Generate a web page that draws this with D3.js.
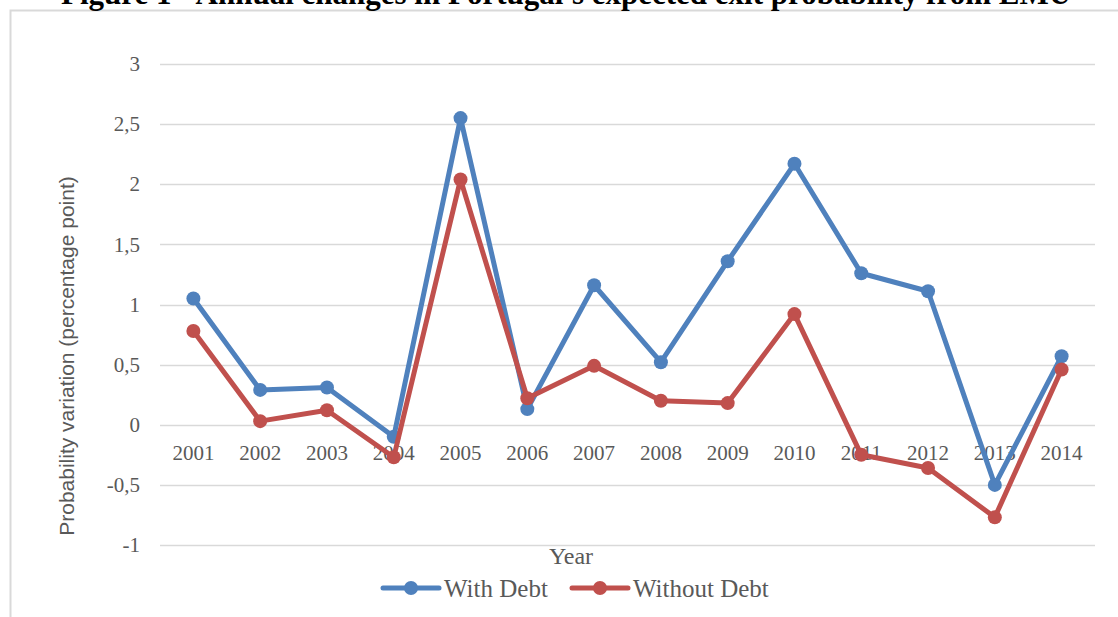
<!DOCTYPE html>
<html>
<head>
  <style>
    body { margin: 0; background: #fff; }
    svg { display: block; }
  </style>
</head>
<body>
  <svg id="svg" width="1118" height="617"></svg>
  <script src="https://d3js.org/d3.v7.min.js"></script>
  <script>
    const years = ['2001', '2002', '2003', '2004', '2005', '2006', '2007', '2008', '2009', '2010', '2011', '2012', '2013', '2014']
    const withDebt = [1.05, 0.29, 0.31, -0.10, 2.55, 0.13, 1.16, 0.52, 1.36, 2.17, 1.26, 1.11, -0.50, 0.57]
    const withoutDebt = [0.78, 0.03, 0.12, -0.27, 2.04, 0.22, 0.49, 0.20, 0.18, 0.92, -0.25, -0.36, -0.77, 0.46]
    const yTicks = [-1, -0.5, 0, 0.5, 1, 1.5, 2, 2.5, 3]
    const seriesNames = ['With Debt', 'Without Debt']
    const colors = ['#4F81BD', '#C0504D']

    const svg = d3.select('#svg')
    const serif = "'Liberation Serif', 'Times New Roman', serif"
    const textColor = '#595959'

    // chart frame (cut off on the right and bottom)
    svg.append('path')
      .attr('d', 'M10.5,617 L10.5,10.5 L1118,10.5')
      .attr('fill', 'none')
      .attr('stroke', '#d9d9d9')
      .attr('stroke-width', 2)

    // title, mostly clipped at the top
    svg.append('text')
      .attr('x', 566).attr('y', 4)
      .attr('text-anchor', 'middle')
      .attr('font-family', serif)
      .attr('font-weight', 'bold')
      .attr('font-size', 31)
      .text("Figure 1 - Annual changes in Portugal's expected exit probability from EMU")

    const x = d3.scaleBand().domain(years).range([160, 1095])
    const y = d3.scaleLinear().domain([-1, 3]).range([545, 64])

    // gridlines
    svg.append('g').selectAll('line').data(yTicks).join('line')
      .attr('x1', 160).attr('x2', 1095)
      .attr('y1', d => Math.round(y(d)) + 0.5).attr('y2', d => Math.round(y(d)) + 0.5)
      .attr('stroke', '#d9d9d9').attr('stroke-width', 1.5)

    const fmt = d => String(d).replace('.', ',')

    // y axis labels
    const yAxis = svg.append('g')
      .attr('transform', 'translate(140,0)')
      .call(d3.axisLeft(y).tickValues(yTicks).tickFormat(fmt).tickSize(0).tickPadding(0))
    yAxis.select('.domain').remove()
    yAxis.selectAll('text')
      .attr('font-family', serif).attr('font-size', 21).attr('fill', textColor)

    // x axis labels below zero line
    const xAxis = svg.append('g')
      .attr('transform', `translate(0,${y(0)})`)
      .call(d3.axisBottom(x).tickSize(0).tickPadding(20))
    xAxis.select('.domain').remove()
    xAxis.selectAll('text')
      .attr('font-family', serif).attr('font-size', 21).attr('fill', textColor)

    // axis titles
    svg.append('text')
      .attr('transform', 'translate(74,356) rotate(-90)')
      .attr('text-anchor', 'middle')
      .attr('font-family', "'Liberation Sans Narrow', 'Liberation Sans', Arial, sans-serif")
      .attr('font-stretch', 'condensed')
      .attr('font-size', 21)
      .attr('fill', textColor)
      .text('Probability variation (percentage point)')

    svg.append('text')
      .attr('x', 571).attr('y', 564)
      .attr('text-anchor', 'middle')
      .attr('font-family', serif).attr('font-size', 24).attr('fill', textColor)
      .text('Year')

    // series
    const line = d3.line()
      .x((d, i) => x(years[i]) + x.bandwidth() / 2)
      .y(d => y(d))

    const allSeries = [withDebt, withoutDebt]
    allSeries.forEach((vals, si) => {
      const g = svg.append('g')
      g.append('path')
        .attr('d', line(vals))
        .attr('fill', 'none')
        .attr('stroke', colors[si])
        .attr('stroke-width', 5)
        .attr('stroke-linejoin', 'round')
      g.selectAll('circle').data(vals).join('circle')
        .attr('cx', (d, i) => x(years[i]) + x.bandwidth() / 2)
        .attr('cy', d => y(d))
        .attr('r', 7)
        .attr('fill', colors[si])
    })

    // legend
    const legendX = [383, 572]
    seriesNames.forEach((name, i) => {
      const lg = svg.append('g').attr('transform', `translate(${legendX[i]},588)`)
      lg.append('line')
        .attr('x1', 0).attr('x2', 56)
        .attr('stroke', colors[i]).attr('stroke-width', 5).attr('stroke-linecap', 'round')
      lg.append('circle').attr('cx', 28).attr('r', 7).attr('fill', colors[i])
      lg.append('text')
        .attr('x', 61).attr('y', 9)
        .attr('font-family', serif).attr('font-size', 25).attr('fill', textColor)
        .text(name)
    })
  </script>
</body>
</html>
